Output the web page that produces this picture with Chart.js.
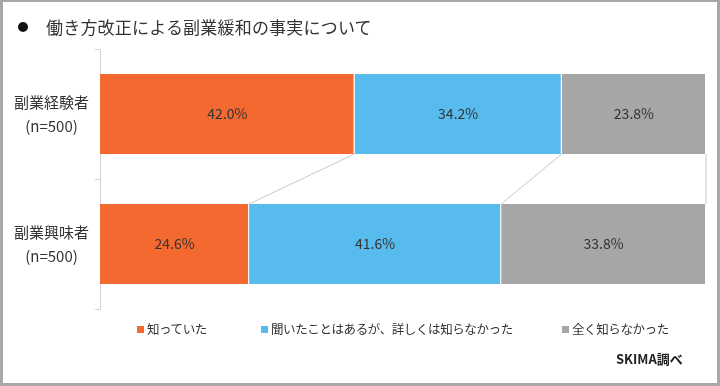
<!DOCTYPE html>
<html><head><meta charset="utf-8">
<script src="https://cdn.jsdelivr.net/npm/chart.js@4/dist/chart.umd.min.js"></script>
<style>
html,body{margin:0;padding:0;background:#fff;}
#wrap{position:relative;width:720px;height:386px;overflow:hidden;font-family:"Noto Sans CJK JP","Noto Sans",sans-serif;}
#c{position:absolute;left:0;top:0;}
#frame{position:absolute;left:0;top:0;width:720px;height:386px;box-sizing:border-box;border:3px solid #a8a8a8;border-top-width:2px;pointer-events:none;}
#title{position:absolute;left:18px;top:14px;font-size:17px;color:#333;letter-spacing:0.2px;white-space:nowrap;}
#title .dot{display:inline-block;width:10px;height:10px;border-radius:50%;background:#111;margin-right:18px;vertical-align:2px;}
#legend .item{position:absolute;top:319px;font-size:12.5px;color:#333;white-space:nowrap;letter-spacing:-0.4px;}
#legend .sw{display:inline-block;width:7px;height:7px;margin-right:3px;vertical-align:1px;}
#src{position:absolute;left:616px;top:349px;font-size:13px;font-weight:bold;color:#222;}
</style></head>
<body><div id="wrap">
<canvas id="c" width="720" height="386"></canvas>
<div id="title"><span class="dot"></span>働き方改正による副業緩和の事実について</div>
<div id="legend"></div>
<div id="src">SKIMA調べ</div>
<div id="frame"></div>
</div>
<script>
const categories = [["副業経験者","(n=500)"],["副業興味者","(n=500)"]];
const seriesNames = ["知っていた","聞いたことはあるが、詳しくは知らなかった","全く知らなかった"];
const knew = [42.0, 24.6];
const heardOnly = [34.2, 41.6];
const notAtAll = [23.8, 33.8];
const colors = ["#F4692F","#58BBEE","#A6A6A6"];
const legendX = [137, 261, 562];

const seriesValues = [knew, heardOnly, notAtAll];

const lg = document.getElementById('legend');
seriesNames.forEach((n,i)=>{
  const d=document.createElement('div');d.className='item';d.style.left=legendX[i]+'px';
  d.innerHTML='<span class="sw" style="background:'+colors[i]+'"></span>'+n;
  lg.appendChild(d);
});

const extras = {
  id:'extras',
  afterDatasetsDraw(chart){
    const ctx=chart.ctx, xs=chart.scales.x;
    const n=seriesValues.length;
    ctx.save();
    ctx.strokeStyle='#c8c8c8';ctx.lineWidth=1;
    for(let s=0;s<n;s++){
      const meta=chart.getDatasetMeta(s);
      for(let c=0;c<categories.length-1;c++){
        let cum1=0,cum2=0;
        for(let k=0;k<=s;k++){cum1+=seriesValues[k][c];cum2+=seriesValues[k][c+1];}
        const b1=meta.data[c], b2=meta.data[c+1];
        const y1=b1.y+b1.height/2, y2=b2.y-b2.height/2;
        ctx.beginPath();ctx.moveTo(xs.getPixelForValue(cum1),y1);ctx.lineTo(xs.getPixelForValue(cum2),y2);ctx.stroke();
      }
    }
    ctx.fillStyle='#333';ctx.font='14px "Noto Sans CJK JP","Noto Sans",sans-serif';
    ctx.textAlign='center';ctx.textBaseline='middle';
    chart.data.datasets.forEach((ds,i)=>{
      chart.getDatasetMeta(i).data.forEach((bar,j)=>{
        const x=(bar.x+bar.base)/2;
        ctx.fillText(ds.data[j].toFixed(1)+'%',x,bar.y);
      });
    });
    ctx.restore();
  }
};

new Chart(document.getElementById('c'),{
  type:'bar',
  data:{labels:categories,datasets:seriesValues.map((v,i)=>({label:seriesNames[i],data:v,backgroundColor:colors[i],borderColor:'#fff',borderWidth:{left:0,right:1,top:0,bottom:0},borderSkipped:false,barPercentage:0.615,categoryPercentage:1}))},
  options:{
    indexAxis:'y',responsive:false,animation:false,
    layout:{padding:{top:49,bottom:77,left:0,right:14}},
    plugins:{legend:{display:false},tooltip:{enabled:false},title:{display:false}},
    scales:{
      x:{stacked:true,min:0,max:100,display:false},
      y:{stacked:true,
        afterFit(s){s.width=100;},
        border:{display:true,color:'#d4d4d4',width:1},
        grid:{offset:true,drawOnChartArea:false,tickLength:5,color:'#d4d4d4'},
        ticks:{crossAlign:'center',padding:6,color:'#333',font:{size:15,family:'"Noto Sans CJK JP","Noto Sans",sans-serif',lineHeight:1.6}}
      }
    }
  },
  plugins:[extras]
});
</script>
</body></html>
